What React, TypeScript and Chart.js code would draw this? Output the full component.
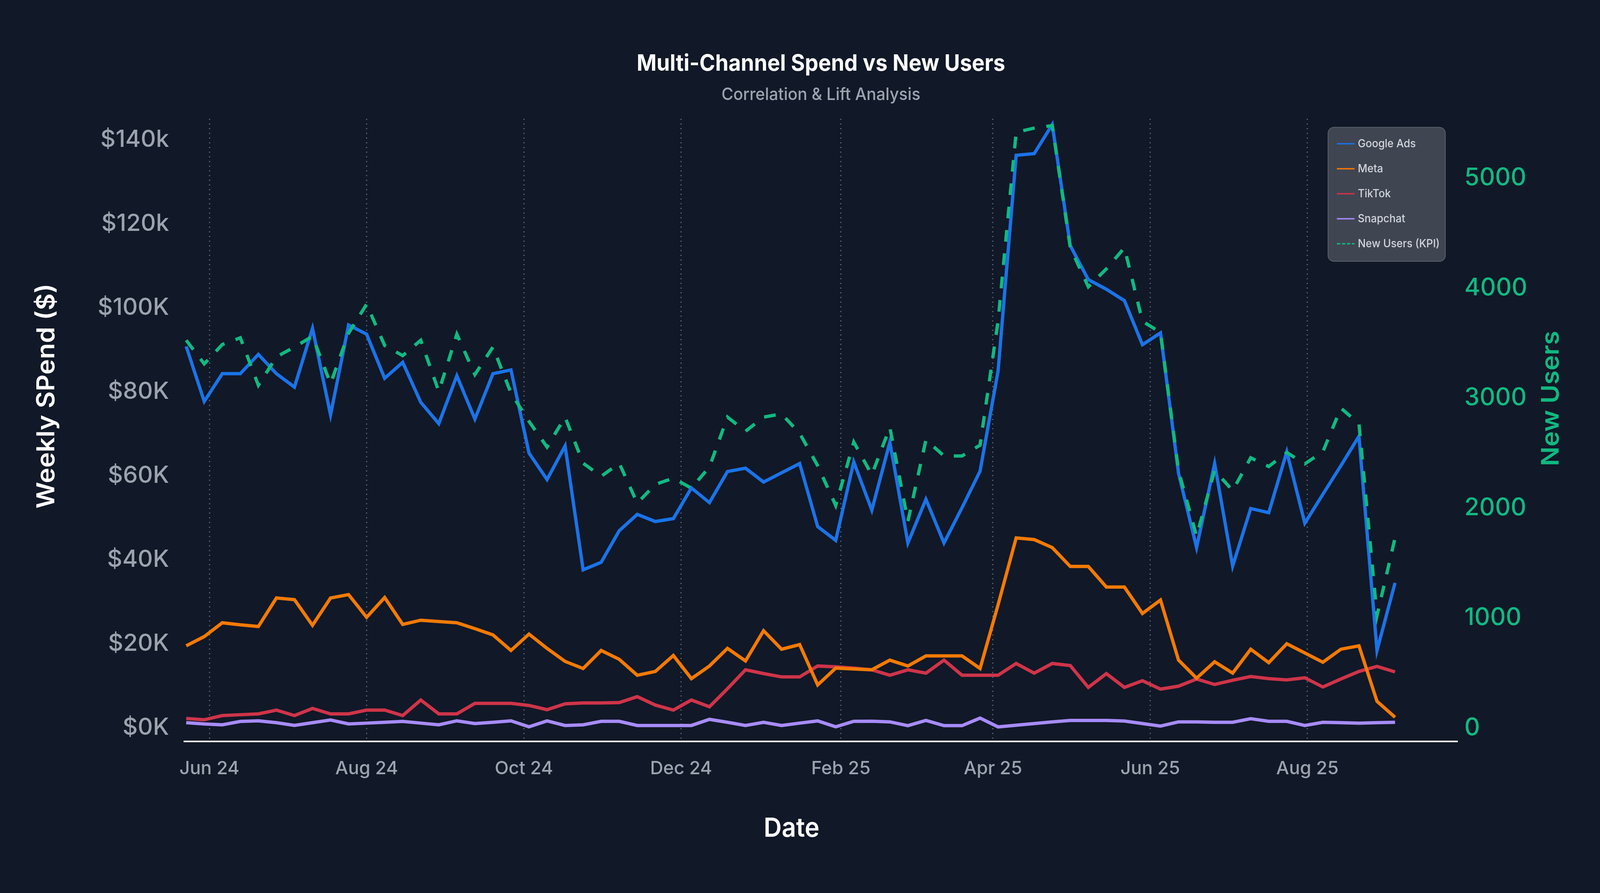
import React, { useEffect, useRef } from 'react';
import { Chart, registerables } from 'chart.js';

Chart.register(...registerables);

const DAY = 86400000;

// layout of the reference is measured on a 4354 x 2286 picture
const REF_W = 4354;
const REF_H = 2286;

// weekly data, first week starting 23 May 2024
const startDate = '2024-05-23';
const weekCount = 68;

const googleAds = [
  90800, 77700, 84300, 84300, 88900, 84300, 81100, 95100, 74500, 95900,
  93700, 83200, 87000, 77500, 72400, 83800, 73500, 84300, 85200, 65400,
  59100, 67100, 37600, 39400, 46900, 50800, 49100, 49800, 57100, 53600,
  61000, 61800, 58500, 60700, 62900, 47900, 44600, 63300, 51800, 68000,
  44000, 54400, 44000, 52400, 61100, 85000, 136300, 136700, 143600, 114800,
  106700, 104400, 101700, 91200, 94000, 60600, 42900, 62900, 38500, 52200,
  51200, 65700, 48700, 55600, 62400, 69400, 18400, 34500,
];

const meta = [
  19500, 21700, 25000, 24500, 24100, 30900, 30500, 24400, 30900, 31700,
  26300, 31000, 24600, 25600, 25300, 25000, 23600, 22100, 18400, 22300,
  18900, 15800, 14100, 18400, 16300, 12500, 13400, 17200, 11700, 14700,
  18900, 15900, 23100, 18700, 19800, 10200, 14200, 14000, 13800, 16100,
  14700, 17100, 17100, 17100, 14100, 29300, 45200, 44800, 42900, 38400,
  38400, 33500, 33500, 27200, 30400, 16100, 11800, 15700, 13000, 18700,
  15500, 20000, 17800, 15600, 18700, 19500, 6300, 2500,
];

const tiktok = [
  2200, 1900, 2900, 3100, 3300, 4200, 2900, 4600, 3300, 3300,
  4200, 4200, 2900, 6600, 3300, 3300, 5800, 5800, 5800, 5300,
  4300, 5700, 5900, 5900, 6000, 7400, 5400, 4200, 6600, 5000,
  9300, 13800, 12900, 12100, 12100, 14700, 14500, 14200, 13800, 12500,
  13800, 13000, 16100, 12500, 12500, 12500, 15300, 13000, 15300, 14800,
  9600, 12900, 9600, 11200, 9200, 9900, 11600, 10300, 11300, 12200,
  11700, 11400, 11900, 9700, 11600, 13400, 14600, 13300,
];

const snapchat = [
  1200, 900, 700, 1500, 1650, 1200, 550, 1200, 1850, 900,
  1100, 1300, 1500, 1100, 700, 1650, 1000, 1300, 1650, 230,
  1630, 540, 700, 1530, 1530, 540, 540, 540, 540, 2000,
  1300, 540, 1300, 540, 1100, 1630, 230, 1530, 1550, 1400,
  500, 1740, 500, 500, 2300, 200, 600, 1000, 1400, 1740,
  1740, 1740, 1600, 1000, 400, 1400, 1400, 1300, 1300, 2150,
  1530, 1530, 540, 1300, 1200, 1100, 1200, 1300,
];

const newUsers = [
  3524, 3309, 3485, 3546, 3114, 3373, 3462, 3560, 3128, 3588,
  3852, 3476, 3384, 3524, 3058, 3579, 3212, 3462, 3044, 2786,
  2553, 2825, 2406, 2286, 2406, 2043, 2213, 2270, 2179, 2372,
  2825, 2696, 2825, 2854, 2678, 2383, 2021, 2598, 2300, 2732,
  1878, 2618, 2472, 2472, 2570, 3700, 5415, 5453, 5476, 4366,
  4010, 4173, 4365, 3697, 3595, 2336, 1742, 2340, 2157, 2455,
  2376, 2503, 2400, 2511, 2907, 2765, 1020, 1726,
];

const xTickDates = ['2024-06-01', '2024-08-01', '2024-10-01', '2024-12-01', '2025-02-01', '2025-04-01', '2025-06-01', '2025-08-01'];
const xTickLabels = ['Jun 24', 'Aug 24', 'Oct 24', 'Dec 24', 'Feb 25', 'Apr 25', 'Jun 25', 'Aug 25'];
const spendTicks = [0, 20000, 40000, 60000, 80000, 100000, 120000, 140000];
const spendTickLabels = ['$0K', '$20K', '$40K', '$60K', '$80K', '$100K', '$120k', '$140k'];
const userTicks = [0, 1000, 2000, 3000, 4000, 5000];

const chartTitle = 'Multi-Channel Spend vs New Users';
const chartSubtitle = 'Correlation & Lift Analysis';
const xTitle = 'Date';
const yTitle = 'Weekly SPend ($)';
const y1Title = 'New Users';

const BG = '#111827';
const GRAY = '#9ca3af';
const GREEN = '#10b981';
const FONT = 'Inter, "Noto Sans", sans-serif';

const t0 = Date.parse(startDate);
const weeks = Array.from({ length: weekCount }, (_, i) => t0 + i * 7 * DAY);
const toPoints = (vals: number[]) => vals.map((y, i) => ({ x: weeks[i], y }));

const legendDash: Record<string, number[]> = { 'New Users (KPI)': [8.5, 4.3] };

// text is squeezed horizontally so that it keeps the reference proportions
function text(ctx: CanvasRenderingContext2D, s: string, x: number, y: number, font: string, color: string, sx: number, vertical = false) {
  ctx.save();
  ctx.translate(x, y);
  ctx.scale(sx, 1);
  if (vertical) ctx.rotate(-Math.PI / 2);
  ctx.font = font;
  ctx.fillStyle = color;
  ctx.fillText(s, 0, 0);
  ctx.restore();
}

// titles, axis titles and the boxed legend
const overlay = {
  id: 'overlay',
  afterDraw(chart: any) {
    const { ctx, chartArea: a } = chart;
    const sx = chart.width / REF_W;
    const sy = chart.height / REF_H;
    const cx = (a.left + a.right) / 2;
    ctx.save();
    ctx.textAlign = 'center';
    ctx.textBaseline = 'middle';

    text(ctx, chartTitle, cx, 164 * sy, `700 58px ${FONT}`, '#ffffff', sx);
    text(ctx, chartSubtitle, cx, 243 * sy, `500 44px ${FONT}`, GRAY, sx);
    text(ctx, xTitle, 2154 * sx, 2122 * sy, `600 68px ${FONT}`, '#ffffff', sx);
    text(ctx, yTitle, 128 * sx, 1014 * sy, `600 67px ${FONT}`, '#ffffff', sx, true);
    text(ctx, y1Title, 4221 * sx, 1020 * sy, `600 66px ${FONT}`, GREEN, sx, true);

    // legend box
    const bx = 3614 * sx;
    const by = 326 * sy;
    ctx.beginPath();
    ctx.roundRect(bx, by, 319 * sx, 343 * sy, 15);
    ctx.fillStyle = '#404552';
    ctx.fill();
    ctx.lineWidth = 2;
    ctx.strokeStyle = '#5a5f6c';
    ctx.stroke();

    ctx.textAlign = 'left';
    chart.data.datasets.forEach((ds: any, i: number) => {
      const y = by + (42 + i * 64) * sy;
      ctx.beginPath();
      ctx.setLineDash(legendDash[ds.label] || []);
      ctx.lineWidth = 3.5;
      ctx.strokeStyle = ds.borderColor;
      ctx.moveTo(bx + 24 * sx, y);
      ctx.lineTo(bx + 72 * sx, y);
      ctx.stroke();
      ctx.setLineDash([]);
      text(ctx, ds.label, bx + 81 * sx, y, `500 28.5px ${FONT}`, '#d1d5db', sx);
    });
    ctx.restore();
  },
};

export default function App() {
  const canvasRef = useRef<HTMLCanvasElement>(null);

  useEffect(() => {
    document.body.style.margin = '0';
    document.body.style.background = BG;
    const canvas = canvasRef.current!;
    const box = canvas.parentElement!;
    const sx = box.clientWidth / REF_W;
    const sy = box.clientHeight / REF_H;
    const f = Math.sqrt(sx * sy);
    Chart.defaults.font.family = FONT;

    const line = (label: string, data: number[], color: string, axis: string) => ({
      label,
      data: toPoints(data),
      yAxisID: axis,
      borderColor: color,
      backgroundColor: color,
      borderWidth: 8.5,
      pointRadius: 0,
      tension: 0,
      fill: false,
    });

    const chart = new Chart(canvas.getContext('2d')!, {
      type: 'line',
      data: {
        datasets: [
          line('Google Ads', googleAds, '#1a73e8', 'y'),
          line('Meta', meta, '#f47a02', 'y'),
          line('TikTok', tiktok, '#cf3449', 'y'),
          line('Snapchat', snapchat, '#a78bfa', 'y'),
          { ...line('New Users (KPI)', newUsers, GREEN, 'y1'), borderDash: [30, 30], order: -1 },
        ],
      },
      options: {
        animation: false,
        responsive: true,
        maintainAspectRatio: false,
        events: [],
        layout: { padding: { top: 304 * sy, left: 0, right: 0, bottom: 0 } },
        plugins: {
          legend: { display: false },
          title: { display: false },
          tooltip: { enabled: false },
        },
        scales: {
          x: {
            type: 'linear',
            min: t0 - 0.67 * DAY,
            max: t0 + 493.2 * DAY,
            afterBuildTicks: (s: any) => {
              s.ticks = xTickDates.map((d) => ({ value: Date.parse(d) }));
            },
            afterFit: (s: any) => {
              s.height = 388 * sy;
            },
            ticks: {
              callback: (_v: any, i: number) => xTickLabels[i],
              color: GRAY,
              font: { size: 48 * f, weight: 500 },
              padding: 42 * sy,
              maxRotation: 0,
              autoSkip: false,
            },
            grid: { color: '#5b6170', lineWidth: 3, drawTicks: false },
            border: { display: true, color: '#ffffff', width: 4, dash: [3, 9] },
          },
          y: {
            type: 'linear',
            position: 'left',
            min: -3260,
            max: 145000,
            afterBuildTicks: (s: any) => {
              s.ticks = spendTicks.map((v) => ({ value: v }));
            },
            afterFit: (s: any) => {
              s.width = 502 * sx;
            },
            ticks: {
              callback: (_v: any, i: number) => spendTickLabels[i],
              color: GRAY,
              font: { size: 62 * f, weight: 500 },
              padding: 42 * sx,
            },
            grid: { display: false, drawTicks: false },
            border: { display: false },
          },
          y1: {
            type: 'linear',
            position: 'right',
            min: -124,
            max: 5538,
            afterBuildTicks: (s: any) => {
              s.ticks = userTicks.map((v) => ({ value: v }));
            },
            afterFit: (s: any) => {
              s.width = 388 * sx;
            },
            ticks: {
              callback: (v: any) => String(v),
              color: GREEN,
              font: { size: 64 * f, weight: 500 },
              padding: 19 * sx,
            },
            grid: { display: false, drawTicks: false },
            border: { display: false },
          },
        },
      } as any,
      plugins: [overlay],
    });

    return () => {
      chart.destroy();
    };
  }, []);

  return (
    <div style={{ position: 'fixed', inset: 0, background: BG }}>
      <canvas ref={canvasRef}></canvas>
    </div>
  );
}
